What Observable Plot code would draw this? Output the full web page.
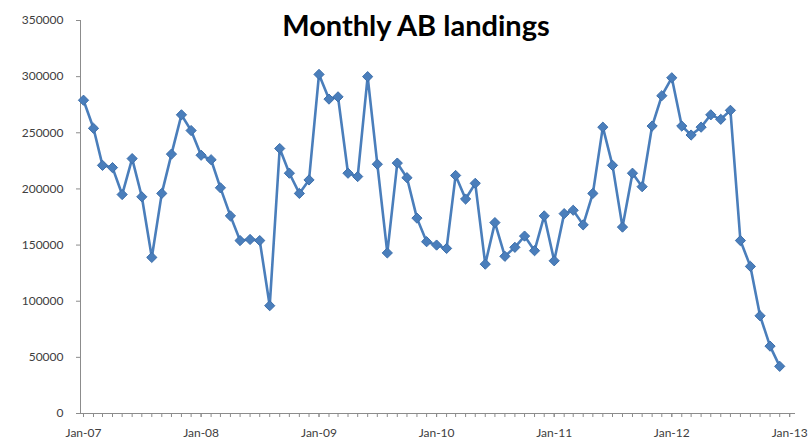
<!DOCTYPE html>
<html><head><meta charset="utf-8">
<script src="https://cdn.jsdelivr.net/npm/d3@7"></script>
<script src="https://cdn.jsdelivr.net/npm/@observablehq/plot@0.6"></script>
<style>
html,body{margin:0;padding:0;background:#fff;}
#wrap{position:relative;width:812px;height:447px;overflow:hidden;background:#fff;}
#title{position:absolute;left:10px;top:7px;width:812px;text-align:center;font:bold 29px Lato,"Open Sans",sans-serif;color:#000;z-index:2;}
#chart{position:absolute;left:0;top:0;}
</style></head><body>
<div id="wrap"><div id="title">Monthly AB landings</div><div id="chart"></div></div>
<script>
const years = [2007, 2008, 2009, 2010, 2011, 2012];
const landings2007 = [279000, 254000, 221000, 219000, 195000, 227000, 193000, 139000, 196000, 231000, 266000, 252000];
const landings2008 = [230000, 226000, 201000, 176000, 154000, 155000, 154000, 96000, 236000, 214000, 196000, 208000];
const landings2009 = [302000, 280000, 282000, 214000, 211000, 300000, 222000, 143000, 223000, 210000, 174000, 153000];
const landings2010 = [150000, 147000, 212000, 191000, 205000, 133000, 170000, 140000, 148000, 158000, 145000, 176000];
const landings2011 = [136000, 178000, 181000, 168000, 196000, 255000, 221000, 166000, 214000, 202000, 256000, 283000];
const landings2012 = [299000, 256000, 248000, 255000, 266000, 262000, 270000, 154000, 131000, 87000, 60000, 42000];
const yTicks = [0, 50000, 100000, 150000, 200000, 250000, 300000, 350000];
const labelYears = [2007, 2008, 2009, 2010, 2011, 2012, 2013];

const series = [landings2007, landings2008, landings2009, landings2010, landings2011, landings2012];
const data = years.flatMap((yr, i) => series[i].map((v, m) => ({date: new Date(Date.UTC(yr, m, 1)), value: v})));
const yearTicks = labelYears.map(y => new Date(Date.UTC(y, 0, 1)));
const monthTicks = d3.utcMonths(yearTicks[0], d3.utcMonth.offset(yearTicks[yearTicks.length - 1], 1));
const xStart = new Date(Date.UTC(2006, 11, 22, 16));
const xEnd = new Date(Date.UTC(2013, 0, 19));
const blue = "#4a7ebb";
const axisGrey = "#8c8c8c";

const chart = Plot.plot({
  width: 812,
  height: 447,
  marginLeft: 80,
  marginRight: 17,
  marginTop: 20,
  marginBottom: 34,
  style: {fontFamily: "Lato, 'Open Sans', sans-serif", fontSize: "12px", color: "#404040", background: "#fff"},
  x: {type: "utc", domain: [xStart, xEnd]},
  y: {domain: [0, 350000]},
  marks: [
    Plot.ruleY([0], {stroke: axisGrey, strokeWidth: 1}),
    Plot.ruleX([xStart], {stroke: axisGrey, strokeWidth: 1}),
    Plot.axisY({ticks: yTicks, tickSize: 4, tickPadding: 13, tickFormat: d => String(d), label: null, stroke: axisGrey, fill: "#404040"}),
    Plot.axisX({ticks: monthTicks, tickSize: 4, tickFormat: () => "", label: null, stroke: axisGrey}),
    Plot.axisX({ticks: yearTicks, tickSize: 4, tickPadding: 11, tickFormat: d3.utcFormat("%b-%y"), label: null, stroke: axisGrey, fill: "#404040"}),
    Plot.line(data, {x: "date", y: "value", stroke: blue, strokeWidth: 2.6}),
    Plot.dot(data, {x: "date", y: "value", symbol: "diamond2", r: 4.6, fill: blue, stroke: "#3d6fab", strokeWidth: 1})
  ]
});
document.getElementById("chart").appendChild(chart);
</script>
</body></html>
